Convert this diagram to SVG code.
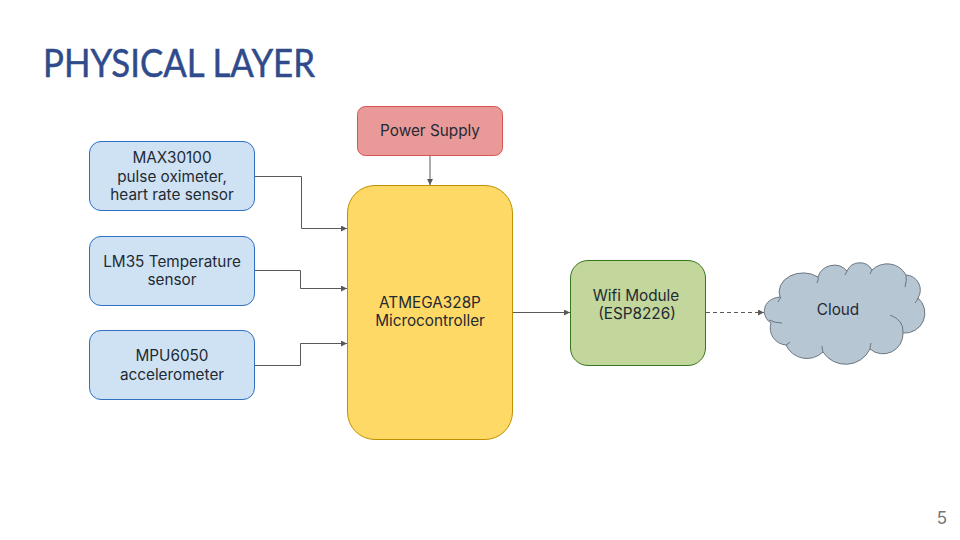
<svg xmlns="http://www.w3.org/2000/svg" width="960" height="540" viewBox="0 0 960 540">
<style>
text{font-family:"Inter","Open Sans","Liberation Sans",sans-serif;font-size:15.3px;fill:#1f2a33;text-anchor:middle}
.c{fill:none;stroke:#595959;stroke-width:1}
.b{fill:#cfe2f3;stroke:#2f6fc4;stroke-width:1}
</style>
<defs>
<marker id="a" markerUnits="userSpaceOnUse" markerWidth="7" markerHeight="6" refX="6" refY="3" orient="auto"><path d="M0 0L6 3L0 6Z" fill="#595959"/></marker>
</defs>
<rect width="960" height="540" fill="#fff"/>
<text x="43" y="77" textLength="272" lengthAdjust="spacingAndGlyphs" style="font-family:'Lato','Liberation Sans',sans-serif;font-size:39px;fill:#2f4b8c;stroke:#2f4b8c;stroke-width:0.5px;text-anchor:start;font-weight:400">PHYSICAL LAYER</text>
<g id="connectors">
<path class="c" marker-end="url(#a)" d="M255 176.500H301.500V228.500H347"/>
<path class="c" marker-end="url(#a)" d="M255 270.500H300.500V288.500H347"/>
<path class="c" marker-end="url(#a)" d="M255 365.500H300.500V343.500H347"/>
<path class="c" marker-end="url(#a)" d="M430 156V185"/>
<path class="c" marker-end="url(#a)" d="M513 312.500H570"/>
<path class="c" stroke-dasharray="4 3" marker-end="url(#a)" d="M706 312.500H764"/>
</g>
<g id="n1"><rect class="b" x="89.500" y="141.500" width="165" height="69" rx="11.500"/><text x="172" y="163">MAX30100</text><text x="172" y="182">pulse oximeter,</text><text x="172" y="200">heart rate sensor</text></g>
<g id="n2"><rect class="b" x="89.500" y="236.500" width="165" height="69" rx="11.500"/><text x="172" y="267">LM35 Temperature</text><text x="172" y="285">sensor</text></g>
<g id="n3"><rect class="b" x="89.500" y="330.500" width="165" height="69" rx="11.500"/><text x="172" y="361">MPU6050</text><text x="172" y="380">accelerometer</text></g>
<g id="n4"><rect x="357.500" y="106.500" width="145" height="49" rx="8" fill="#ea9999" stroke="#d9524f" stroke-width="1"/><text x="430" y="136">Power Supply</text></g>
<g id="n5"><rect x="347.500" y="185.500" width="165" height="254" rx="27.500" fill="#ffd966" stroke="#bf9000" stroke-width="1"/><text x="430" y="308">ATMEGA328P</text><text x="430" y="326">Microcontroller</text></g>
<g id="n6"><rect x="570.500" y="260.500" width="135" height="105" rx="17.500" fill="#c3d69b" stroke="#38761d" stroke-width="1"/><text x="636" y="301">Wifi Module</text><text x="637" y="319">(ESP8226)</text></g>
<g id="n7">
<path fill="#b7c6d3" stroke="#6b7680" stroke-width="1" d="M771 323C761 317 761 299 780 297A24 19 0 0 1 818 277A17 17 0 0 1 847 271A14 14 0 0 1 872 270A21 20 0 0 1 906 275A15 15 0 0 1 918 298A20 20 0 0 1 903 333A20 20 0 0 1 870 349A27 27 0 0 1 823 352A23 23 0 0 1 786 345A17 17 0 0 1 771 323Z"/>
<path fill="none" stroke="#6b7680" stroke-width="1" d="M781 297Q779 300 778 302M769 320Q775 323 782 323M818 277Q819 279 817 283M847 271Q846 273 845 275M872 270Q871 272 870 274M906 275Q907 280 905 287M918 298Q917 301 915 303M903 333Q904 320 890 315M870 349Q870 346 871 343M823 352Q822 349 822 346M786 345Q788 344 790 342"/>
<text x="838" y="315">Cloud</text>
</g>
<text x="942" y="524" style="font-size:17px;fill:#757575">5</text>
</svg>
